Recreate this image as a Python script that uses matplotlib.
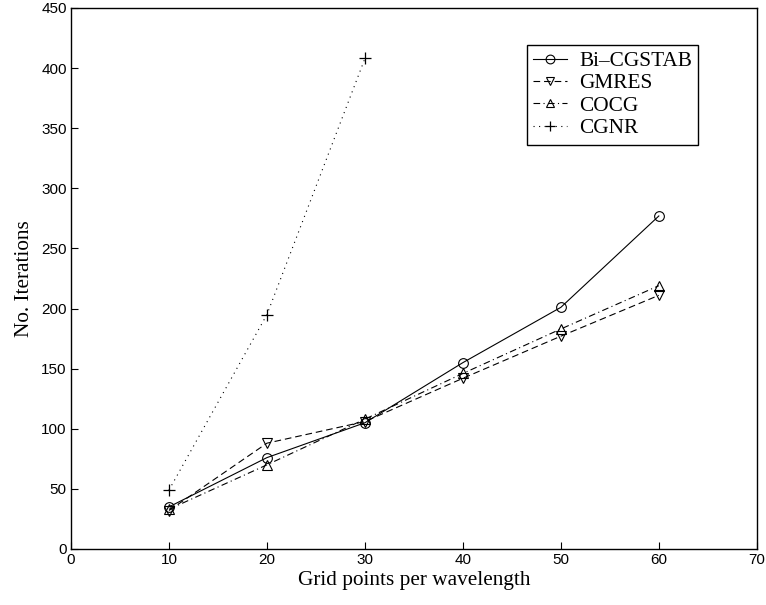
import matplotlib
matplotlib.use("Agg")
import matplotlib.pyplot as plt

x = [10, 20, 30, 40, 50, 60]
bicgstab = [35, 76, 105, 155, 201, 277]
gmres = [32, 88, 106, 142, 177, 211]
cocg = [33, 70, 108, 146, 183, 219]
cgnr_x = [10, 20, 30]
cgnr = [49, 195, 408]

fig = plt.figure(figsize=(7.66, 6.05), dpi=100)
ax = fig.add_axes([0.0927, 0.0926, 0.8953, 0.8942])

ms = 7
ax.plot(x, bicgstab, '-', color='black', lw=0.8, marker='o', mfc='none', ms=ms, mew=0.8, label='Bi\u2013CGSTAB')
ax.plot(x, gmres, '--', color='black', lw=0.8, marker='v', mfc='none', ms=ms, mew=0.8, dashes=(6, 3.5), label='GMRES')
ax.plot(x, cocg, '-.', color='black', lw=0.8, marker='^', mfc='none', ms=ms, mew=0.8, dashes=(6, 3, 1, 3), label='COCG')
ax.plot(cgnr_x, cgnr, ':', color='black', lw=0.8, marker='+', ms=ms + 1, mew=0.9, dashes=(1, 4), label='CGNR')

ax.set_xlim(0, 70)
ax.set_ylim(0, 450)
ax.set_xticks(range(0, 71, 10))
ax.set_yticks(range(0, 451, 50))
for lab in ax.get_xticklabels() + ax.get_yticklabels():
    lab.set_fontfamily('Liberation Sans')
    lab.set_fontsize(11)
ax.tick_params(direction='in', length=5, width=0.8, pad=3, top=False, right=False)
for s in ax.spines.values():
    s.set_linewidth(1.0)

ax.set_xlabel('Grid points per wavelength', family='Liberation Serif', fontsize=15.3, labelpad=3)
ax.set_ylabel('No. Iterations', family='Liberation Serif', fontsize=15.3, labelpad=5)

leg = ax.legend(loc='upper left', bbox_to_anchor=(0.665, 0.932), prop={'family': 'Liberation Serif', 'size': 15.3},
                fancybox=False, edgecolor='black', framealpha=1, handlelength=1.6, borderpad=0.3,
                borderaxespad=0.0, labelspacing=0.12, handletextpad=0.55, markerscale=0.9)
leg.get_frame().set_linewidth(1.0)

fig.savefig('out.png', dpi=100)
